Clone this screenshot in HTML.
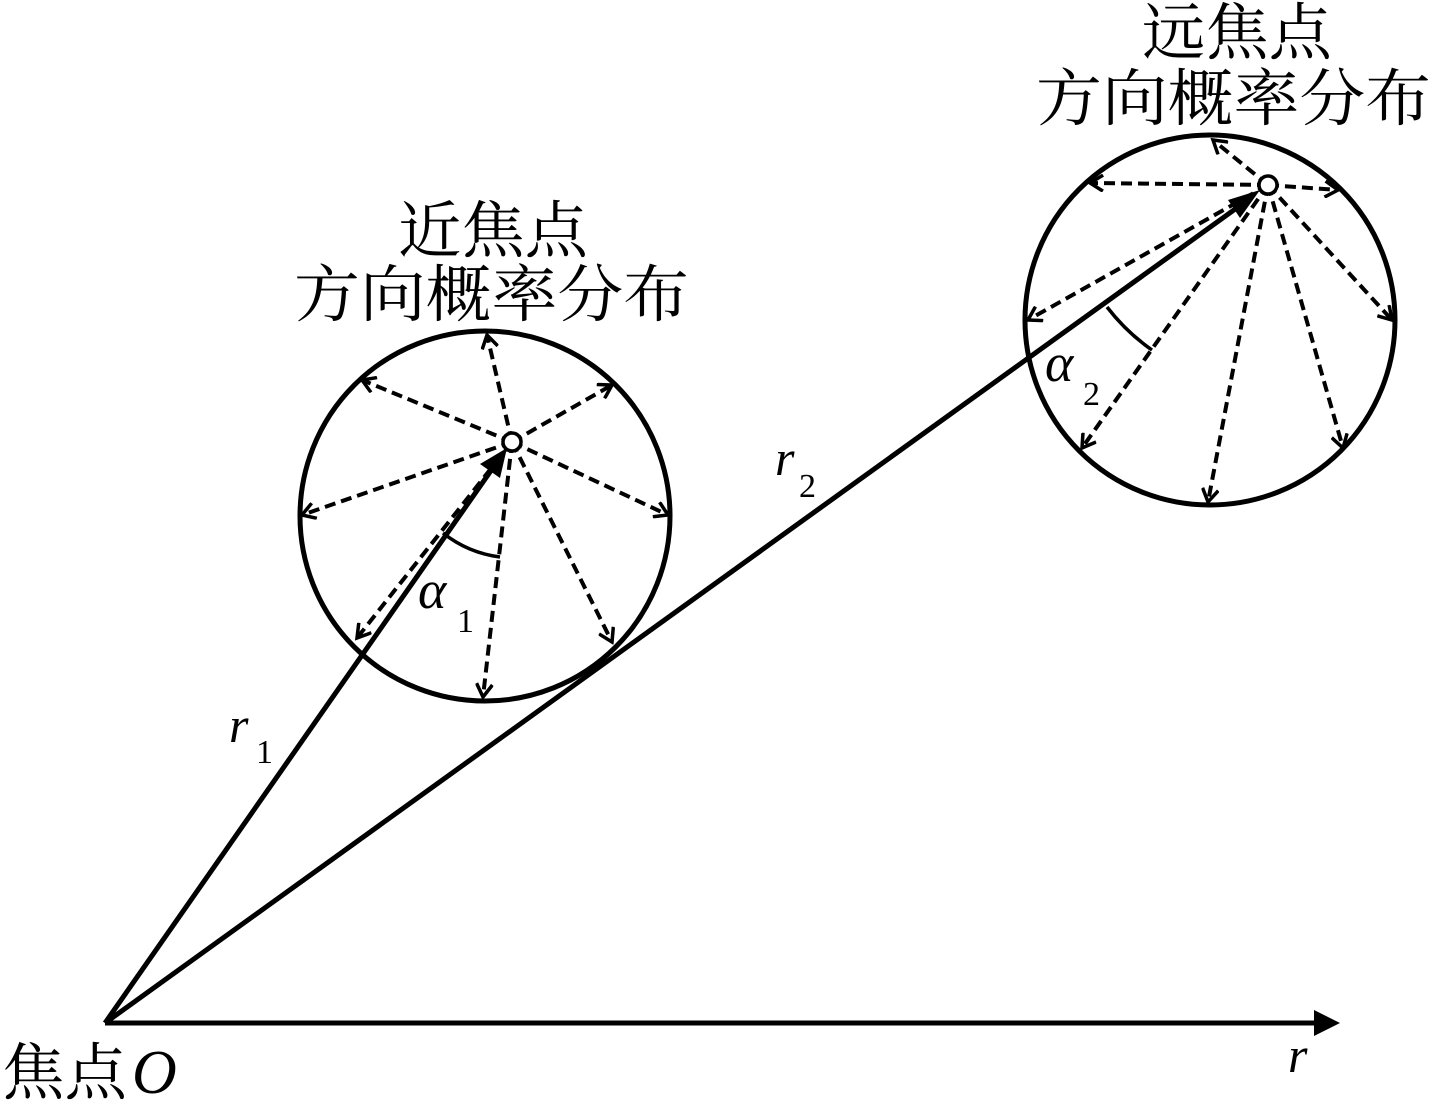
<!DOCTYPE html>
<html><head><meta charset="utf-8"><style>
html,body{margin:0;padding:0;background:#fff;}
svg{display:block;}
.cj{font-family:"Liberation Serif","Noto Serif CJK SC",serif;font-size:62px;fill:#000;}
.it{font-family:"Liberation Serif",serif;font-style:italic;fill:#000;}
.n{font-family:"Liberation Serif",serif;fill:#000;}
</style></head><body>
<svg width="1436" height="1105" viewBox="0 0 1436 1105" xmlns="http://www.w3.org/2000/svg">
<defs>
<marker id="v" markerWidth="18" markerHeight="18" refX="15" refY="9" orient="auto" markerUnits="userSpaceOnUse">
<polyline points="2,1 15,9 2,17" fill="none" stroke="#000" stroke-width="3.5"/>
</marker>
</defs>
<g fill="none" stroke="#000" stroke-width="5">
<circle cx="485" cy="516" r="185"/>
<circle cx="1210" cy="320" r="185"/>
</g>
<g stroke="#000" stroke-width="4" stroke-dasharray="11,6" fill="none" marker-end="url(#v)">
<line x1="512" y1="442" x2="487" y2="335"/>
<line x1="512" y1="442" x2="362" y2="380"/>
<line x1="512" y1="442" x2="612" y2="385"/>
<line x1="512" y1="442" x2="302" y2="515"/>
<line x1="512" y1="442" x2="668" y2="515"/>
<line x1="512" y1="442" x2="357" y2="638"/>
<line x1="512" y1="442" x2="483" y2="697"/>
<line x1="512" y1="442" x2="612" y2="642"/>
<line x1="1268" y1="185" x2="1213" y2="140"/>
<line x1="1268" y1="185" x2="1090" y2="183"/>
<line x1="1268" y1="185" x2="1338" y2="190"/>
<line x1="1268" y1="185" x2="1028" y2="320"/>
<line x1="1268" y1="185" x2="1392" y2="320"/>
<line x1="1268" y1="185" x2="1082" y2="448"/>
<line x1="1268" y1="185" x2="1208" y2="502"/>
<line x1="1268" y1="185" x2="1343" y2="448"/>
</g>
<g stroke="#000" stroke-width="5" fill="none">
<line x1="105" y1="1023" x2="497" y2="462"/>
<line x1="105" y1="1023" x2="1245" y2="202"/>
<line x1="105" y1="1023" x2="1316" y2="1023"/>
<path d="M443,533 A115,115 0 0 0 500,557" stroke-width="3.5"/>
<path d="M1107,307 A202,202 0 0 0 1152,350" stroke-width="3.5"/>
</g>
<polygon points="1340,1023 1314,1010 1314,1036" fill="#000"/>
<polygon points="507,448 480,464 500,478" fill="#000"/>
<polygon points="1260,190 1228,200 1240,218" fill="#000"/>
<circle cx="512" cy="442" r="9" fill="#fff" stroke="#000" stroke-width="3.5"/>
<circle cx="1268" cy="185" r="9" fill="#fff" stroke="#000" stroke-width="3.5"/>
<text class="cj" x="398" y="252" textLength="190" lengthAdjust="spacingAndGlyphs">近焦点</text>
<text class="cj" x="294" y="316" textLength="395" lengthAdjust="spacingAndGlyphs">方向概率分布</text>
<text class="cj" x="1142" y="54" textLength="190" lengthAdjust="spacingAndGlyphs">远焦点</text>
<text class="cj" x="1036" y="120" textLength="395" lengthAdjust="spacingAndGlyphs">方向概率分布</text>
<text class="cj" x="2" y="1094" textLength="125" lengthAdjust="spacingAndGlyphs">焦点</text>
<text class="it" x="132" y="1093" font-size="62">O</text>
<text class="it" x="1288" y="1072" font-size="50">r</text>
<text class="it" x="229" y="742" font-size="50">r</text>
<text class="n" x="256" y="763" font-size="34">1</text>
<text class="it" x="775" y="475" font-size="50">r</text>
<text class="n" x="799" y="497" font-size="34">2</text>
<text class="it" x="418" y="608" font-size="54">α</text>
<text class="n" x="457" y="632" font-size="34">1</text>
<text class="it" x="1045" y="381" font-size="54">α</text>
<text class="n" x="1083" y="405" font-size="34">2</text>
</svg>
</body></html>
